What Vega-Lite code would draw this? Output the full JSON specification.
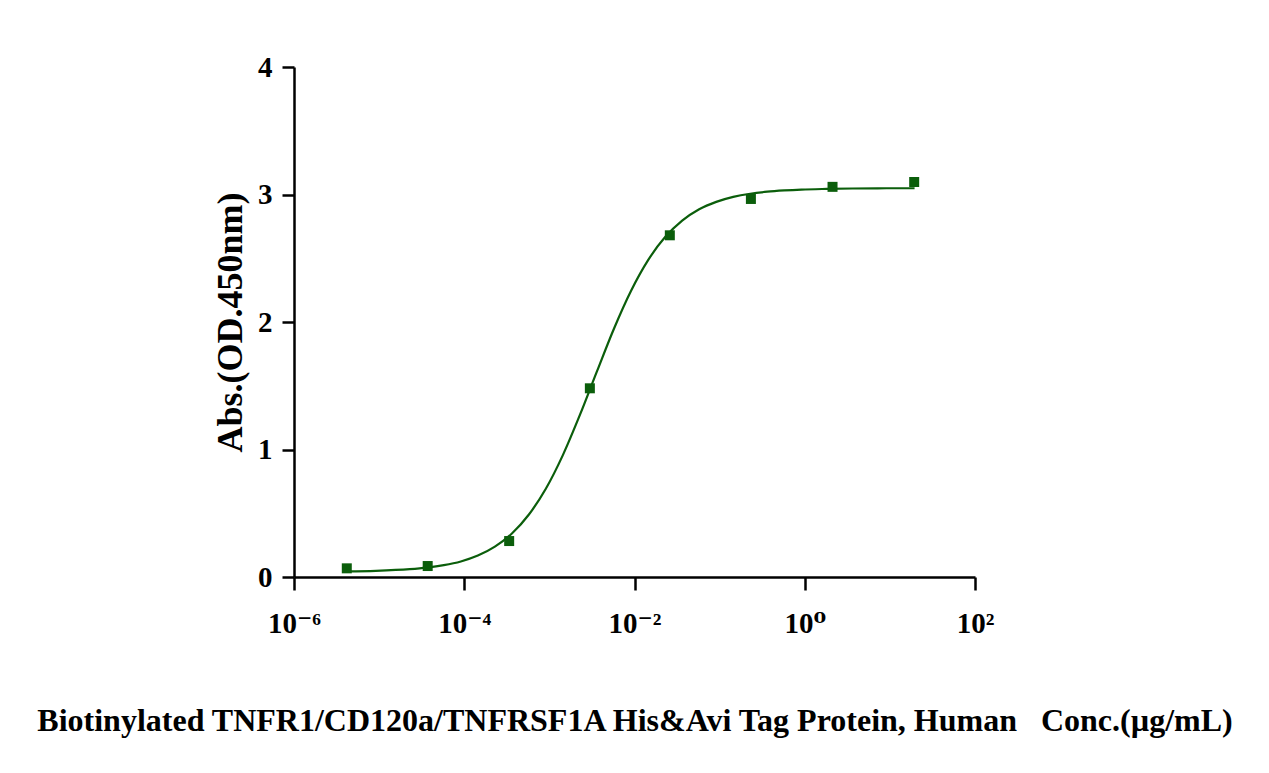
{
  "$schema": "https://vega.github.io/schema/vega-lite/v6.json",
  "autosize": {"type": "none"},
  "padding": {"left": 294, "top": 67, "right": 294, "bottom": 196},
  "width": 681,
  "height": 510,
  "background": "white",
  "config": {
    "view": {"stroke": null},
    "axis": {
      "grid": false,
      "domainColor": "black",
      "domainWidth": 2.5,
      "tickColor": "black",
      "tickWidth": 2.5,
      "labelFont": "Liberation Serif, DejaVu Serif",
      "labelFontWeight": "bold",
      "labelColor": "black",
      "labelFontSize": 29,
      "titleFont": "Liberation Serif",
      "titleFontWeight": "bold",
      "titleColor": "black"
    }
  },
  "datasets": {
    "curve": [
      {"conc": 4.17e-6, "od": 0.044},
      {"conc": 9.12e-6, "od": 0.0486},
      {"conc": 2.29e-5, "od": 0.0613},
      {"conc": 3.63e-5, "od": 0.0735},
      {"conc": 5.75e-5, "od": 0.0927},
      {"conc": 9.12e-5, "od": 0.122},
      {"conc": 1.445e-4, "od": 0.168},
      {"conc": 2.29e-4, "od": 0.238},
      {"conc": 3.63e-4, "od": 0.341},
      {"conc": 5.75e-4, "od": 0.49},
      {"conc": 9.12e-4, "od": 0.694},
      {"conc": 1.445e-3, "od": 0.958},
      {"conc": 2.29e-3, "od": 1.273},
      {"conc": 3.63e-3, "od": 1.614},
      {"conc": 5.75e-3, "od": 1.949},
      {"conc": 9.12e-3, "od": 2.245},
      {"conc": 1.445e-2, "od": 2.485},
      {"conc": 2.29e-2, "od": 2.666},
      {"conc": 3.63e-2, "od": 2.795},
      {"conc": 5.75e-2, "od": 2.884},
      {"conc": 9.12e-2, "od": 2.942},
      {"conc": 0.1445, "od": 2.981},
      {"conc": 0.229, "od": 3.006},
      {"conc": 0.363, "od": 3.022},
      {"conc": 0.575, "od": 3.032},
      {"conc": 0.912, "od": 3.039},
      {"conc": 1.82, "od": 3.044},
      {"conc": 3.63, "od": 3.047},
      {"conc": 9.12, "od": 3.049},
      {"conc": 19.5, "od": 3.049}
    ],
    "points": [
      {"conc": 4.17e-6, "od": 0.068},
      {"conc": 3.72e-5, "od": 0.086},
      {"conc": 3.37e-4, "od": 0.282},
      {"conc": 2.99e-3, "od": 1.48},
      {"conc": 0.026, "od": 2.68},
      {"conc": 0.233, "od": 2.965},
      {"conc": 2.12, "od": 3.06},
      {"conc": 19.3, "od": 3.098}
    ]
  },
  "encoding": {
    "x": {
      "field": "conc",
      "type": "quantitative",
      "scale": {"type": "log", "domain": [1e-6, 100], "nice": false},
      "axis": {
        "values": [1e-6, 1e-4, 1e-2, 1, 100],
        "tickSize": 13,
        "labelPadding": 19,
        "labelExpr": "datum.value < 1e-5 ? '10⁻⁶' : datum.value < 1e-3 ? '10⁻⁴' : datum.value < 0.1 ? '10⁻²' : datum.value < 10 ? '10⁰' : '10²'",
        "labelFlush": false,
        "labelOverlap": false,
        "title": "Biotinylated TNFR1/CD120a/TNFRSF1A His&Avi Tag Protein, Human\u00a0\u00a0\u00a0Conc.(µg/mL)",
        "titleFontSize": 32,
        "titleX": 340.5,
        "titleY": 153,
        "titleAlign": "center",
        "titleBaseline": "alphabetic"
      }
    },
    "y": {
      "field": "od",
      "type": "quantitative",
      "scale": {"domain": [0, 4], "nice": false, "zero": false},
      "axis": {
        "values": [0, 1, 2, 3, 4],
        "tickSize": 12,
        "labelPadding": 10,
        "labelFlush": false,
        "title": "Abs.(OD.450nm)",
        "titleFontSize": 36,
        "titleAngle": -90,
        "titleX": -64,
        "titleY": 255,
        "titleAlign": "center",
        "titleBaseline": "middle"
      }
    }
  },
  "layer": [
    {
      "data": {"name": "curve"},
      "mark": {"type": "line", "color": "#0b5e0b", "strokeWidth": 2.2, "interpolate": "monotone", "clip": false}
    },
    {
      "data": {"name": "points"},
      "mark": {"type": "point", "shape": "square", "filled": true, "size": 100, "color": "#0b5e0b", "opacity": 1}
    }
  ]
}
